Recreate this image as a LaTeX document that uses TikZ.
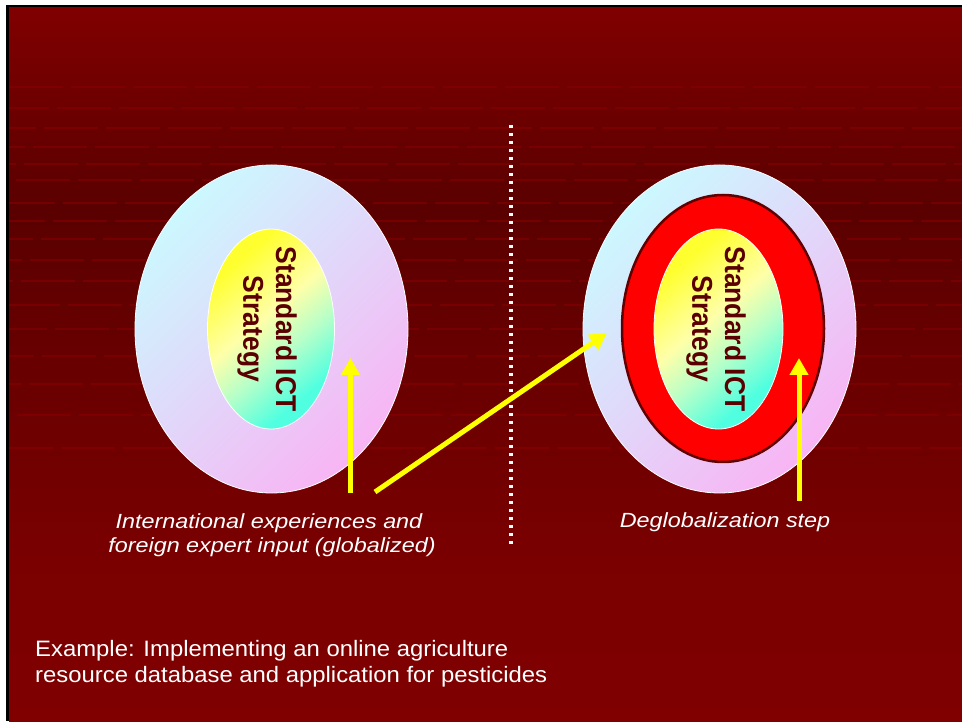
\documentclass[tikz,border=0pt]{standalone}
\usepackage{fontspec}
\setmainfont{Liberation Sans}
\usetikzlibrary{arrows.meta,shapes.geometric}
\definecolor{bgtop}{HTML}{800000}
\definecolor{bgdark}{HTML}{5A0000}
\definecolor{bglow}{HTML}{7A0000}
\definecolor{rowred}{HTML}{8A0000}
\definecolor{outerA}{HTML}{CCF8FF}
\definecolor{outerB}{HTML}{F8B4F4}
\definecolor{innerA}{HTML}{FFFF30}
\definecolor{innerM}{HTML}{FFFFA8}
\definecolor{innerG}{HTML}{B8FFC8}
\definecolor{innerB}{HTML}{50FFE0}
\definecolor{ictred}{HTML}{5A0000}
\definecolor{ringred}{HTML}{FF0000}
\definecolor{ringedge}{HTML}{600000}
\definecolor{arrowyellow}{HTML}{FFFF00}
\pgfdeclareverticalshading{corefill}{100bp}{color(0bp)=(innerB); color(28bp)=(innerB); color(42bp)=(innerG); color(54bp)=(innerM); color(72bp)=(innerA); color(100bp)=(innerA)}
\begin{document}
\begin{tikzpicture}[x=1pt,y=1pt,
  outerring/.style={ellipse, inner sep=0pt, minimum width=273pt, minimum height=328pt,
    top color=outerA, bottom color=outerB, shading angle=45, draw=white, line width=0.8pt},
  innercore/.style={ellipse, inner sep=0pt, minimum width=127pt, minimum height=200pt,
    shading=corefill, shading angle=40, draw=white, line width=0.8pt},
  redring/.style={ellipse, inner sep=0pt, minimum width=202pt, minimum height=267pt,
    fill=ringred, draw=ringedge, line width=2.5pt},
  ictlabel/.style={inner sep=0pt, align=center, text=ictred,
    font=\fontsize{26.5}{30.3}\selectfont\bfseries, xscale=1.08, rotate=-90},
  caption/.style={inner sep=0pt, text=white, font=\fontsize{20.5}{24}\selectfont\itshape, xscale=1.14},
  example/.style={inner sep=0pt, text=white, font=\fontsize{22.3}{26}\selectfont, xscale=1.07, anchor=base west},
  yarrow/.style={draw=arrowyellow, line width=5pt, -{Triangle[width=18pt,length=17pt]}},
  rowline/.style={draw=rowred, opacity=0.55, line width=2.2pt}
]
\useasboundingbox (0,0) rectangle (962,721);
% frame and background
\fill[white] (0,0) rectangle (962,721);
\fill[black] (6.3,0) rectangle (962,716);
\shade[top color=bgtop, bottom color=bgdark] (9,513) rectangle (962,713.7);
\shade[top color=bgdark, bottom color=bglow] (9,161) rectangle (962,513.2);
\shade[top color=bglow, bottom color=bgtop] (9,0) rectangle (962,161.2);
% faint perspective floor rows
\foreach \yy/\ph in {634/0,613/14,593/27,574/38,557/47,541/55,518/8,500/18,482/30,461/41,440/50,416/3,392/16,365/29,337/42,306/54,273/10}{
  \draw[rowline, dash pattern=on 54pt off 8pt, dash phase=\ph pt] (9,\yy) -- (962,\yy);
}
% left diagram
\node[outerring] (lo) at (271.5,392) {};
\node[innercore] (li) at (271,392) {};
\node[ictlabel] (lt) at (267,392) {Standard ICT\\Strategy};
% right diagram
\node[outerring] (ro) at (719.5,392) {};
\node[redring] (rr) at (723,392.5) {};
\node[innercore, minimum width=129pt] (ri) at (718.5,392) {};
\node[ictlabel] (rt) at (716,392) {Standard ICT\\Strategy};
% divider
\coordinate (dtop) at (511,596);
\coordinate (dbot) at (511,176);
\draw[white, line width=3.5pt, dash pattern=on 3.5pt off 4.5pt] (dtop) -- (dbot);
% arrows
\coordinate (a1s) at (350.5,228);
\coordinate (a1e) at (350.5,363);
\coordinate (a2s) at (375,229);
\coordinate (a2e) at (607,388);
\coordinate (a3s) at (799,220);
\coordinate (a3e) at (799,363);
\draw[yarrow] (a1s) -- (a1e);
\draw[yarrow] (a2s) -- (a2e);
\draw[yarrow] (a3s) -- (a3e);
% captions
\node[caption, anchor=base] (c1) at (269,192) {International experiences and};
\node[caption, anchor=base] (c2) at (272,168) {foreign expert input (globalized)};
\node[caption, anchor=base] (c3) at (725,193) {Deglobalization step};
\node[example] (e1) at (35,64) {Example: Implementing an online agriculture};
\node[example] (e2) at (35,38) {resource database and application for pesticides};
\end{tikzpicture}
\end{document}
